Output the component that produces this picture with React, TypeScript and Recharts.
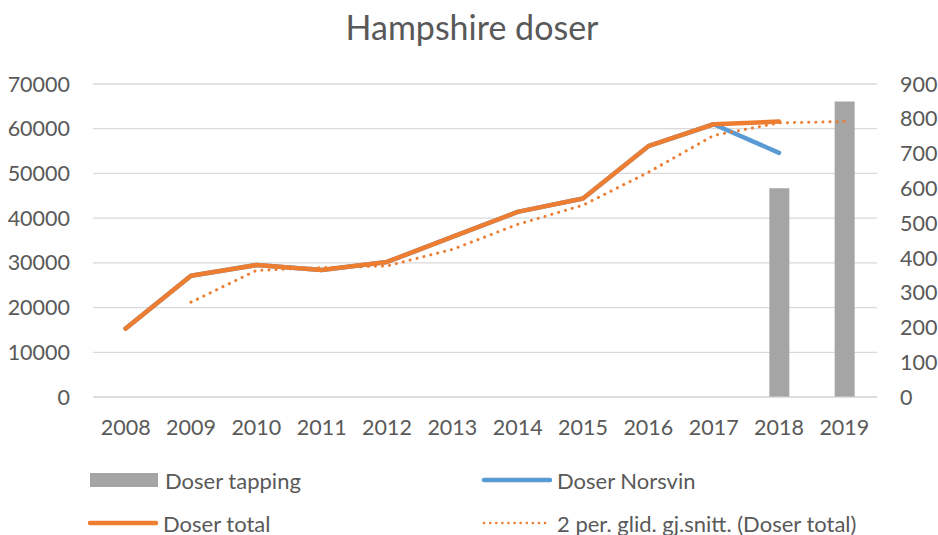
import { Bar, CartesianGrid, ComposedChart, Line, XAxis, YAxis } from "recharts";

const years = ["2008", "2009", "2010", "2011", "2012", "2013", "2014", "2015", "2016", "2017", "2018", "2019"];
const doserTapping = [null, null, null, null, null, null, null, null, null, null, 600, 850];
const doserNorsvin = [15300, 27100, 29500, 28400, 30200, 35800, 41400, 44400, 56100, 61000, 54600, null];
const doserTotal = [15300, 27100, 29500, 28400, 30200, 35800, 41400, 44400, 56100, 61000, 61600, null];
const glidSnitt = [null, 21200, 28300, 28950, 29300, 33000, 38600, 42900, 50250, 58500, 61300, 61600];

const leftTicks = [0, 10000, 20000, 30000, 40000, 50000, 60000, 70000];
const rightTicks = [0, 100, 200, 300, 400, 500, 600, 700, 800, 900];

const data = years.map((year, i) => ({
  year,
  tapping: doserTapping[i],
  norsvin: doserNorsvin[i],
  total: doserTotal[i],
  snitt: glidSnitt[i],
}));

const FONT = "Lato, 'Open Sans', sans-serif";
const TEXT = "#595959";
const tick = { fill: TEXT, fontSize: 21.5, fontFamily: FONT };

function LegendItem({ swatch, label, left, top }: { swatch: React.ReactNode; label: string; left: number; top: number }) {
  return (
    <div style={{ position: "absolute", left, top, display: "flex", alignItems: "center", height: 24 }}>
      <svg width={72} height={16} style={{ marginRight: 5 }}>
        {swatch}
      </svg>
      <span style={{ fontSize: 22, color: TEXT, fontFamily: FONT, whiteSpace: "nowrap" }}>{label}</span>
    </div>
  );
}

export default function App() {
  return (
    <div style={{ position: "relative", width: 938, height: 535, background: "#fff" }}>
      <style>{`body{margin:0}`}</style>
      <div
        style={{
          position: "absolute",
          top: 6,
          left: 0,
          width: 944,
          textAlign: "center",
          fontSize: 34,
          color: TEXT,
          fontFamily: FONT,
        }}
      >
        Hampshire doser
      </div>
      <ComposedChart width={938} height={535} data={data} margin={{ top: 84, right: 0, bottom: 98, left: 0 }}>
        <CartesianGrid yAxisId="left" vertical={false} stroke="#d9d9d9" strokeWidth={1.3} />
        <XAxis
          dataKey="year"
          tick={tick}
          axisLine={{ stroke: "#d9d9d9" }}
          tickLine={false}
          tickMargin={17}
          height={40}
        />
        <YAxis
          yAxisId="left"
          domain={[0, 70000]}
          ticks={leftTicks}
          tick={tick}
          axisLine={false}
          tickLine={false}
          tickMargin={17}
          width={93}
          interval={0}
        />
        <YAxis
          yAxisId="right"
          orientation="right"
          domain={[0, 900]}
          ticks={rightTicks}
          tick={{ ...tick, textAnchor: "start" }}
          axisLine={false}
          tickLine={false}
          tickMargin={17}
          width={61}
          interval={0}
        />
        <Bar yAxisId="right" dataKey="tapping" name="Doser tapping" fill="#a5a5a5" barSize={20} isAnimationActive={false} />
        <Line
          yAxisId="left"
          dataKey="norsvin"
          name="Doser Norsvin"
          stroke="#5b9bd5"
          strokeWidth={4.5}
          strokeLinecap="round"
          strokeLinejoin="round"
          dot={false}
          isAnimationActive={false}
        />
        <Line
          yAxisId="left"
          dataKey="total"
          name="Doser total"
          stroke="#ed7d31"
          strokeWidth={4.5}
          strokeLinecap="round"
          strokeLinejoin="round"
          dot={false}
          isAnimationActive={false}
        />
        <Line
          yAxisId="left"
          dataKey="snitt"
          name="2 per. glid. gj.snitt. (Doser total)"
          stroke="#ed7d31"
          strokeWidth={3}
          strokeDasharray="0.1 7"
          strokeLinecap="round"
          dot={false}
          isAnimationActive={false}
        />
      </ComposedChart>
      <LegendItem
        left={88}
        top={468}
        label="Doser tapping"
        swatch={<rect x={2} y={1} width={68} height={14} fill="#a5a5a5" />}
      />
      <LegendItem
        left={480}
        top={468}
        label="Doser Norsvin"
        swatch={<line x1={4} y1={8} x2={70} y2={8} stroke="#5b9bd5" strokeWidth={4.5} strokeLinecap="round" />}
      />
      <LegendItem
        left={86}
        top={511}
        label="Doser total"
        swatch={<line x1={4} y1={8} x2={70} y2={8} stroke="#ed7d31" strokeWidth={4.5} strokeLinecap="round" />}
      />
      <LegendItem
        left={480}
        top={511}
        label="2 per. glid. gj.snitt. (Doser total)"
        swatch={
          <line x1={4} y1={8} x2={70} y2={8} stroke="#ed7d31" strokeWidth={2.5} strokeDasharray="0.1 6" strokeLinecap="round" />
        }
      />
    </div>
  );
}
